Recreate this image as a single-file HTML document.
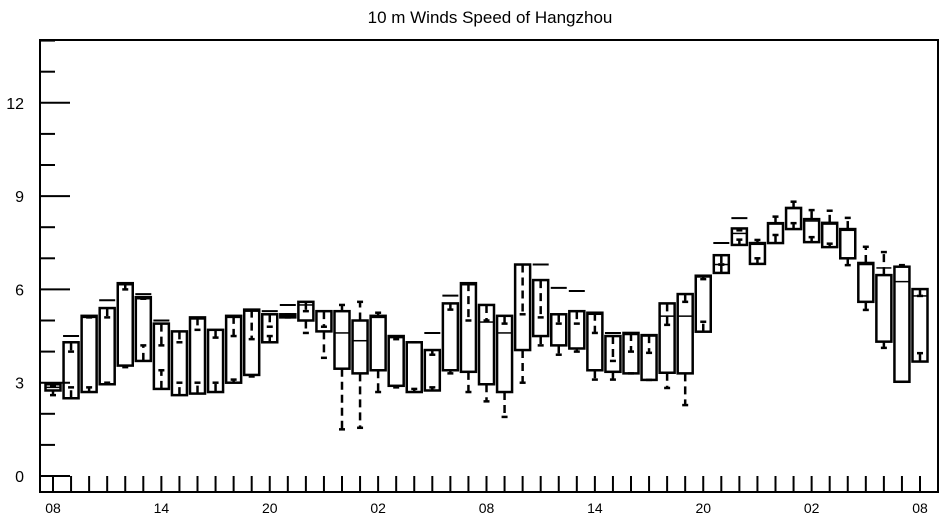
<!DOCTYPE html>
<html><head><meta charset="utf-8"><style>
body{margin:0;background:#fff;}
svg{display:block;font-family:"Liberation Sans",sans-serif;}
</style></head><body>
<svg id="chart" width="945" height="520">
<text x="490" y="23" text-anchor="middle" font-size="17">10 m Winds Speed of Hangzhou</text>
<g id="marks"></g>
<g id="axes"></g>
<rect x="40" y="40" width="898" height="452" fill="none" stroke="#000" stroke-width="2"/>
</svg>
<script>
const q3 =  [2.95,4.3,5.15,5.4,6.2,5.75,4.9,4.65,5.1,4.7,5.15,5.35,5.2,5.2,5.6,5.3,5.3,5.0,5.15,4.5,4.3,4.05,5.55,6.2,5.5,5.15,6.8,6.3,5.2,5.3,5.25,4.5,4.6,4.53,5.55,5.85,6.44,7.1,7.96,7.49,8.13,8.62,8.26,8.14,7.94,6.85,6.46,6.73,6.01];
const q1 =  [2.75,2.5,2.7,2.95,3.55,3.7,2.8,2.6,2.65,2.7,3.0,3.25,4.3,5.1,5.0,4.65,3.45,3.3,3.4,2.9,2.7,2.75,3.4,3.35,2.95,2.7,4.05,4.5,4.2,4.1,3.4,3.35,3.3,3.09,3.32,3.3,4.64,6.53,7.43,6.82,7.49,7.94,7.52,7.36,7.0,5.6,4.32,3.03,3.68];
const med = [2.85,4.3,5.1,2.95,6.15,5.7,4.9,4.65,5.05,4.7,5.1,5.3,5.2,5.15,5.5,5.3,4.6,4.35,5.1,4.45,4.3,4.05,5.55,6.15,4.95,4.6,6.8,6.3,5.2,5.3,5.2,4.5,4.55,4.5,5.14,5.14,6.4,6.8,7.8,7.45,8.1,8.6,8.2,8.1,7.9,6.8,6.69,6.25,5.79];
const lo =  [2.6,2.85,2.85,3.0,3.5,4.2,3.4,3.0,3.0,3.0,3.1,3.2,4.5,5.1,4.6,3.8,1.5,1.55,2.7,2.85,2.8,2.85,3.3,2.7,2.4,1.9,3.0,4.2,3.9,4.0,3.1,3.1,3.3,3.09,2.83,2.28,4.96,6.8,7.6,7.0,7.75,8.13,7.68,7.47,6.78,5.34,4.12,3.03,3.95];
const hi =  [2.9,4.0,5.1,5.1,6.0,5.7,4.2,4.3,4.7,4.45,4.5,4.4,4.8,5.2,5.3,4.8,5.5,5.6,5.25,4.4,4.3,3.9,5.35,5.0,5.0,4.9,5.2,5.1,4.9,4.9,4.6,3.7,4.0,3.96,4.86,5.6,6.33,6.8,7.9,7.59,8.34,8.82,8.55,8.53,8.3,7.37,7.2,6.78,5.79];
const topMark = [null,4.5,null,5.65,null,5.85,5.0,null,null,null,null,null,5.3,5.5,null,null,null,null,null,null,null,4.6,5.8,null,null,null,null,6.8,6.05,5.95,null,4.6,null,null,null,null,null,7.49,8.29,null,null,null,null,null,null,null,null,null,null];
const xLabels = ["08","14","20","02","08","14","20","02","08"];
const yTicks = [0,3,6,9,12];

const NS="http://www.w3.org/2000/svg";
const X0=53, DX=(920-53)/48;
function xs(i){return X0+i*DX;}
function ys(v){return 476-v*31.1;}
function mk(tag,attrs,parent){const e=document.createElementNS(NS,tag);for(const k in attrs)e.setAttribute(k,attrs[k]);parent.appendChild(e);return e;}
const marks=document.getElementById('marks'), axes=document.getElementById('axes');
const W=7.5;
for(let i=0;i<q3.length;i++){
  const g=mk('g',{},marks);
  
  
  const x=xs(i);
  const r=mk('rect',{x:x-W,y:ys(q3[i]),width:2*W,height:Math.max(1,ys(q1[i])-ys(q3[i])),fill:'#fff',stroke:'#000','stroke-width':2.5},g);
  
  
  const m=mk('line',{x1:x-W,x2:x+W,y1:ys(med[i]),y2:ys(med[i]),stroke:'#000','stroke-width':1.5},g);
  
  
  const wl=mk('line',{x1:x,x2:x,y1:ys(q1[i]),y2:ys(lo[i]),stroke:'#000','stroke-width':2.5,'stroke-dasharray':'8,5'},g);
  
  
  mk('line',{x1:x-3,x2:x+3,y1:ys(lo[i]),y2:ys(lo[i]),stroke:'#000','stroke-width':2.5},g);
  const wh=mk('line',{x1:x,x2:x,y1:ys(q3[i]),y2:ys(hi[i]),stroke:'#000','stroke-width':2.5,'stroke-dasharray':'8,5'},g);
  
  
  mk('line',{x1:x-3,x2:x+3,y1:ys(hi[i]),y2:ys(hi[i]),stroke:'#000','stroke-width':2.5},g);
  if(topMark[i]!==null){
    const t=mk('line',{x1:x-8,x2:x+8,y1:ys(topMark[i]),y2:ys(topMark[i]),stroke:'#000','stroke-width':2},g);
    
    
  }
}
for(let v=0;v<=14;v++){
  const major=yTicks.includes(v);
  const t=mk('line',{x1:40,x2:major?70:55,y1:ys(v),y2:ys(v),stroke:'#000','stroke-width':2},axes);
  
  
}
yTicks.forEach(v=>{
  const t=mk('text',{x:24,y:ys(v)+6,'text-anchor':'end','font-size':16},axes);
  t.textContent=v;
  
  
});
for(let i=0;i<q3.length;i++){
  const t=mk('line',{x1:xs(i),x2:xs(i),y1:492,y2:476,stroke:'#000','stroke-width':2},axes);
  
  
}
xLabels.forEach((s,k)=>{
  const t=mk('text',{x:xs(k*6),y:513,'text-anchor':'middle','font-size':14},axes);
  t.textContent=s;
  
  
});
</script>
</body></html>
